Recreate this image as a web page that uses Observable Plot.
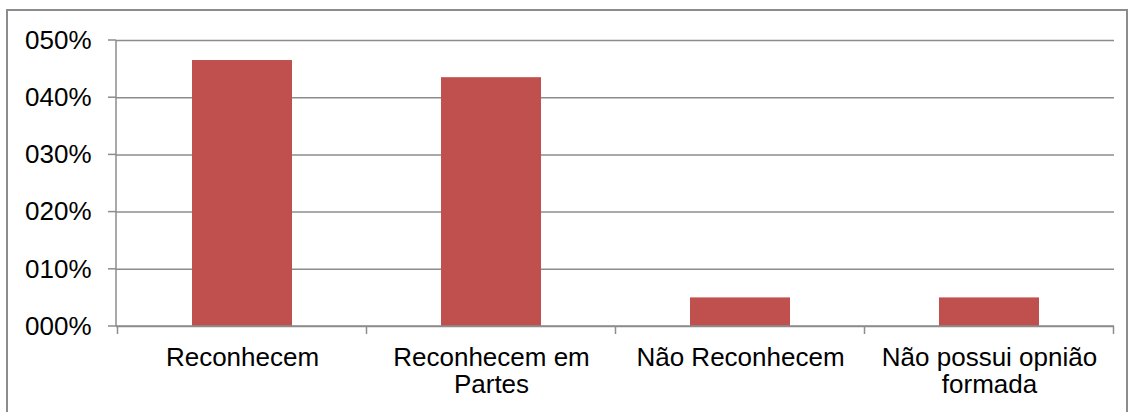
<!DOCTYPE html>
<html>
<head>
<meta charset="utf-8">
<script src="https://cdn.jsdelivr.net/npm/d3@7"></script>
<script src="https://cdn.jsdelivr.net/npm/@observablehq/plot@0.6"></script>
<style>
  html, body { margin: 0; padding: 0; background: #fff; }
  #wrap { position: relative; width: 1132px; height: 412px; overflow: hidden; }
  #frame { position: absolute; left: 6px; top: 9px; width: 1122px; height: 440px;
           border: 2px solid #8c8c8c; pointer-events: none; box-sizing: border-box; }
</style>
</head>
<body>
<div id="wrap"><div id="frame"></div></div>
<script>
const categories = ["Reconhecem", "Reconhecem em Partes", "Não Reconhecem", "Não possui opnião formada"];
const tickLabels = ["Reconhecem", "Reconhecem em\nPartes", "Não Reconhecem", "Não possui opnião\nformada"];
const values = [0.465, 0.435, 0.05, 0.05];
const yTicks = [0, 0.1, 0.2, 0.3, 0.4, 0.5];
const yTickLabels = ["000%", "010%", "020%", "030%", "040%", "050%"];

const data = categories.map((c, i) => ({category: c, value: values[i]}));

const axisLines = (index, scales, vals, dimensions) => {
  const x = scales.x, y = scales.y;
  const ml = dimensions.marginLeft;
  const mr = dimensions.width - dimensions.marginRight;
  const y0 = y(0), yTop = y(0.5);
  const step = x(categories[1]) - x(categories[0]);
  const bw = typeof x.bandwidth === "function" ? x.bandwidth() : step * 0.4;
  const g = d3.create("svg:g").attr("stroke", "#8c8c8c").attr("stroke-width", 1.5).attr("fill", "none");
  g.append("line").attr("x1", ml).attr("x2", ml).attr("y1", yTop).attr("y2", y0);
  for (const t of yTicks) {
    g.append("line").attr("x1", ml - 8).attr("x2", ml).attr("y1", y(t)).attr("y2", y(t));
  }
  g.append("line").attr("x1", ml).attr("x2", mr).attr("y1", y0).attr("y2", y0);
  const bounds = categories.map(c => x(c) - (step - bw) / 2);
  bounds.push(x(categories[categories.length - 1]) + bw + (step - bw) / 2);
  for (const b of bounds) {
    g.append("line").attr("x1", b).attr("x2", b).attr("y1", y0).attr("y2", y0 + 8);
  }
  return g.node();
};

const chart = Plot.plot({
  width: 1132,
  height: 412,
  marginLeft: 116,
  marginRight: 18,
  marginTop: 40,
  marginBottom: 86,
  style: {fontFamily: "'Liberation Sans', Arial, sans-serif", fontSize: "26px", color: "#000", background: "transparent"},
  x: {domain: categories, paddingInner: 0.6, paddingOuter: 0.3, label: null},
  y: {domain: [0, 0.5], label: null},
  marks: [
    Plot.ruleY(yTicks, {stroke: "#8c8c8c", strokeWidth: 1.5}),
    Plot.barY(data, {x: "category", y: "value", fill: "#C0504D"}),
    axisLines,
    Plot.axisY({ticks: yTicks, tickSize: 0, tickPadding: 25, fontSize: 26,
      tickFormat: d => yTickLabels[yTicks.findIndex(t => Math.abs(t - d) < 1e-9)], label: null}),
    Plot.axisX({tickSize: 0, tickPadding: 20, fontSize: 26, lineHeight: 1.05,
      tickFormat: d => tickLabels[categories.indexOf(d)], label: null})
  ]
});
chart.style.position = "absolute";
chart.style.left = "0";
chart.style.top = "0";
document.getElementById("wrap").insertBefore(chart, document.getElementById("frame"));
</script>
</body>
</html>
